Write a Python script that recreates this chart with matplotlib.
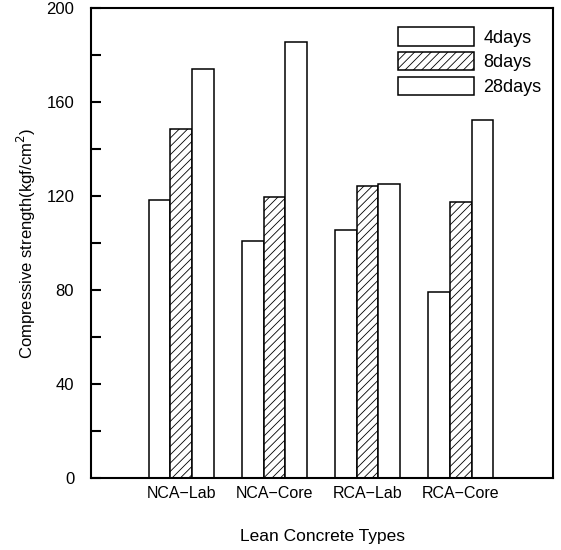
import matplotlib
matplotlib.use("Agg")
import matplotlib.pyplot as plt
import numpy as np
from matplotlib.ticker import MultipleLocator

plt.rcParams["font.family"] = ["Liberation Sans Narrow", "Liberation Sans", "DejaVu Sans"]
plt.rcParams["hatch.linewidth"] = 0.6

categories = ["NCA\u2212Lab", "NCA\u2212Core", "RCA\u2212Lab", "RCA\u2212Core"]
series_labels = ["4days", "8days", "28days"]
strength_4days = [118.5, 101, 105.5, 79]
strength_8days = [148.5, 119.5, 124.5, 117.5]
strength_28days = [174, 185.5, 125, 152.5]

figure = plt.figure(figsize=(5.61, 5.5), dpi=100)
axis = figure.add_axes([0.162, 0.131, 0.824, 0.854])

x = np.arange(len(categories))
width = 0.232
styles = [
    dict(facecolor="white", hatch=None),
    dict(facecolor="white", hatch="////"),
    dict(facecolor="white", hatch=None),
]
for offset, values, label, style in zip(
    (-width, 0.0, width),
    (strength_4days, strength_8days, strength_28days),
    series_labels,
    styles,
):
    axis.bar(
        x + offset, values, width, label=label,
        edgecolor="black", linewidth=1.1, **style,
    )

axis.set_xlim(-0.97, 3.99)
axis.set_ylim(0, 200)
axis.yaxis.set_major_locator(MultipleLocator(40))
axis.yaxis.set_minor_locator(MultipleLocator(20))
axis.tick_params(axis="y", which="both", direction="in", length=7, width=1.5,
                 labelsize=12, pad=12)
axis.tick_params(axis="x", length=0, labelsize=11.5, pad=6)
axis.set_xticks(x, categories)
for spine in axis.spines.values():
    spine.set_linewidth(1.5)

axis.set_ylabel("Compressive strength(kgf/cm$^2$)", fontsize=12, labelpad=6)
axis.set_xlabel("Lean Concrete Types", fontsize=12.5, labelpad=20)

legend = axis.legend(
    loc="upper right", frameon=False, fontsize=13,
    handlelength=4.2, handleheight=1.2, labelspacing=0.3,
    handletextpad=0.5, borderaxespad=0.0, bbox_to_anchor=(0.99, 0.975),
)

figure.savefig("out.png", dpi=100)
